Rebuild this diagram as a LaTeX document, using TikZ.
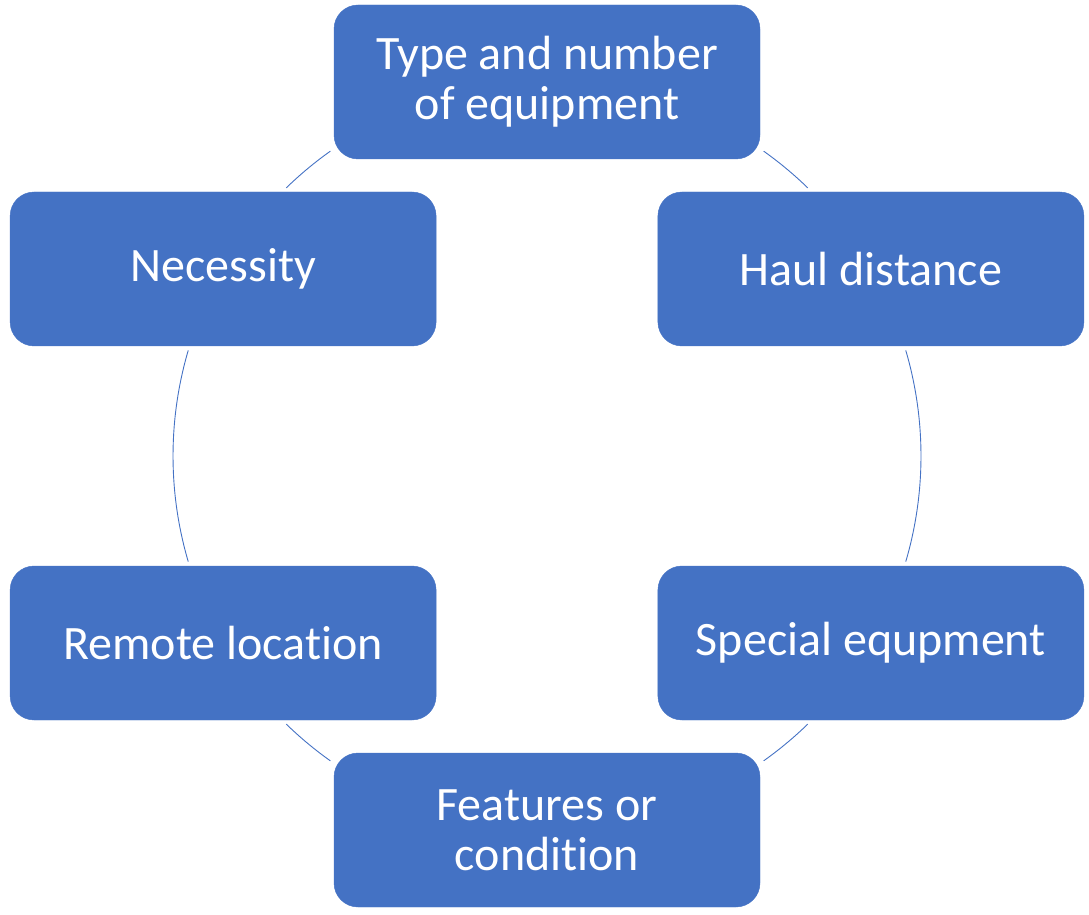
\documentclass[tikz,border=0pt]{standalone}
\usepackage{fontspec}
\setmainfont[Ligatures=NoCommon]{Carlito}
\usepackage{tikz}
\usetikzlibrary{calc}
\definecolor{boxblue}{HTML}{4472C4}
\tikzset{factor/.style={draw=boxblue, fill=boxblue, rounded corners=24pt, minimum width=426pt, minimum height=154pt, align=center, text=white, font=\fontsize{48}{50}\selectfont, inner sep=0pt}}
\tikzset{ring/.style={boxblue, line width=0.9pt}}

\begin{document}
\begin{tikzpicture}
\useasboundingbox (0,0) rectangle (1089pt,914pt);
\coordinate (c) at (547pt,458pt);
\node[factor] (type) at ([shift={(90:374pt)}]c) {Type and number\\of equipment};
\node[factor] (haul) at ([shift={(30:374pt)}]c) {Haul distance};
\node[factor] (special) at ([shift={(-30:374pt)}]c) {Special equpment};
\node[factor] (features) at ([shift={(-90:374pt)}]c) {Features or\\condition};
\node[factor] (remote) at ([shift={(-150:374pt)}]c) {Remote location};
\node[factor] (necessity) at ([shift={(150:374pt)}]c) {Necessity};
\foreach \a/\b in {54.6/45.8, 16.4/-16.4, -45.8/-54.6, -125.4/-134.2, 196.4/163.6, 134.2/125.4}
  \draw[ring] ([shift={(\a:374pt)}]c) arc[start angle=\a, end angle=\b, radius=374pt];
\end{tikzpicture}
\end{document}
